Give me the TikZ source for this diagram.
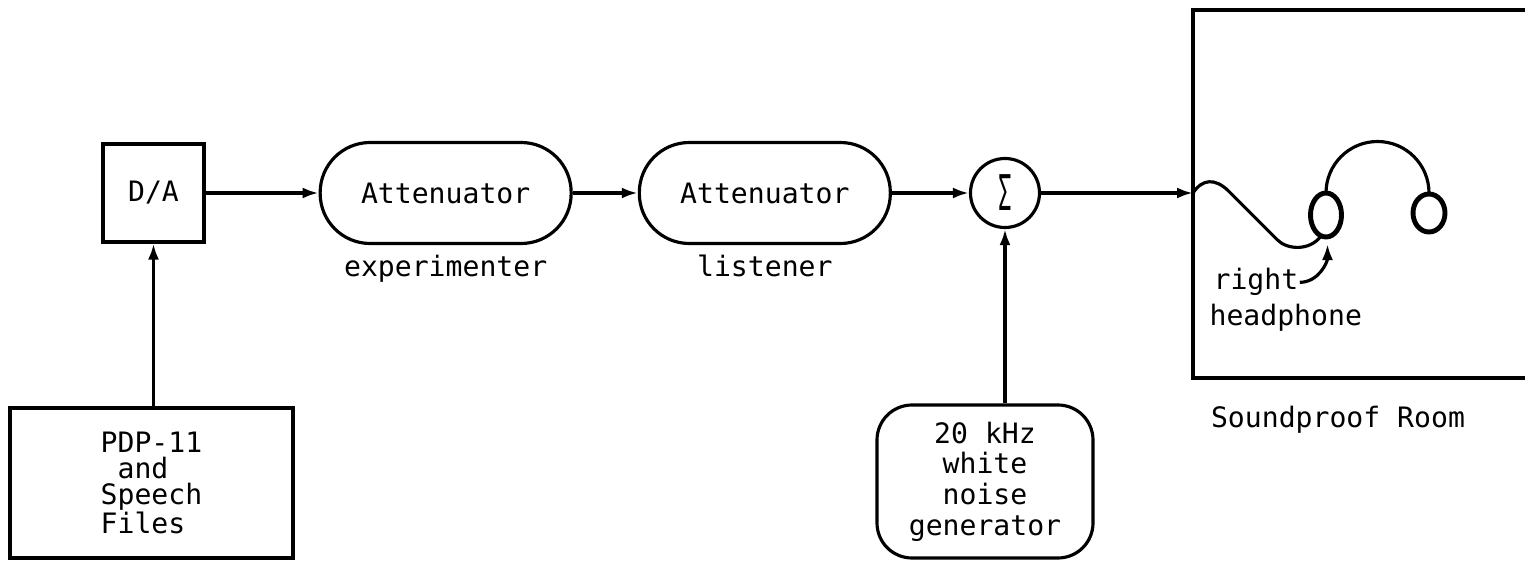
\documentclass[tikz,border=0pt]{standalone}
\usepackage{fontspec}
\setmonofont{DejaVu Sans Mono}
\usetikzlibrary{arrows.meta, positioning}

\begin{document}
\begin{tikzpicture}[node distance=1.3cm, line width=1.8pt,
    font=\ttfamily\fontsize{16}{15}\selectfont,
    >={Latex[length=0.32cm,width=0.22cm]},
    box/.style={draw, rectangle, inner sep=0pt},
    pill/.style={draw, rectangle, rounded corners=1cm,
        minimum width=5.02cm, minimum height=2.02cm},
    earcup/.style={line width=2.8pt}]
    \useasboundingbox (0,0) rectangle (30.5,11.22);

    % D/A converter and the computer feeding it
    \node (da) [box, minimum width=2.02cm, minimum height=1.96cm] at (3.07,7.36) {D/A};
    \node (pdp) [box, minimum width=5.66cm, minimum height=3.0cm, align=left]
        at (3.03,1.56) {PDP-11\\~and\\Speech\\Files};

    % the two attenuators and the summing point
    \node (att1) [pill, right=2.26cm of da] {Attenuator};
    \node (att2) [pill, right=of att1] {Attenuator};
    \node (sum) [draw, circle, minimum size=1.38cm, inner sep=0pt, right=1.54cm of att2]
        {\scalebox{0.8}[1.75]{Σ}};
    \node (explbl) [below=0.05cm of att1] {experimenter};
    \node (lislbl) [below=0.05cm of att2] {listener};

    % noise source under the summing point
    \node (noise) [draw, rounded corners=0.7cm, minimum width=4.32cm, minimum height=3.06cm,
        align=center, font=\ttfamily\fontsize{16}{17.5}\selectfont]
        at (19.7,1.59) {20 kHz\\white\\noise\\generator};

    % soundproof room, open to the right
    \draw (30.5,11.02) -| (23.86,3.66) -- (30.5,3.66);
    \coordinate (jack) at (23.86,7.36);
    \node (roomlbl) [anchor=base] at (26.76,2.68) {Soundproof Room};

    % signal path
    \draw[->] (da) -- (att1);
    \draw[->] (att1) -- (att2);
    \draw[->] (att2) -- (sum);
    \draw[->] (sum) -- (jack);
    \draw[->] (pdp.north -| da) -- (da);
    \draw[->] (noise.north -| sum) -- (sum);

    % headphones with their cable
    \draw (jack) .. controls (24.05,7.65) and (24.3,7.65) .. (24.55,7.42)
        -- (25.55,6.42) .. controls (25.75,6.22) and (26.2,6.2) .. (26.42,6.5);
    \draw[earcup] (26.52,6.92) ellipse [x radius=0.31cm, y radius=0.44cm];
    \draw[earcup] (28.58,6.96) ellipse [x radius=0.32cm, y radius=0.38cm];
    \draw (26.52,7.36) arc [start angle=180, end angle=0, radius=1.03];

    % label for the right earcup
    \coordinate (cuptip) at (26.55,6.34);
    \node (rightlbl) [anchor=base west, inner sep=0pt] at (24.24,5.42) {right};
    \node (phonelbl) [anchor=base west, inner sep=0pt] at (24.16,4.72) {headphone};
    \draw[->] (rightlbl.east) to[out=0, in=-90] (cuptip);
\end{tikzpicture}
\end{document}
